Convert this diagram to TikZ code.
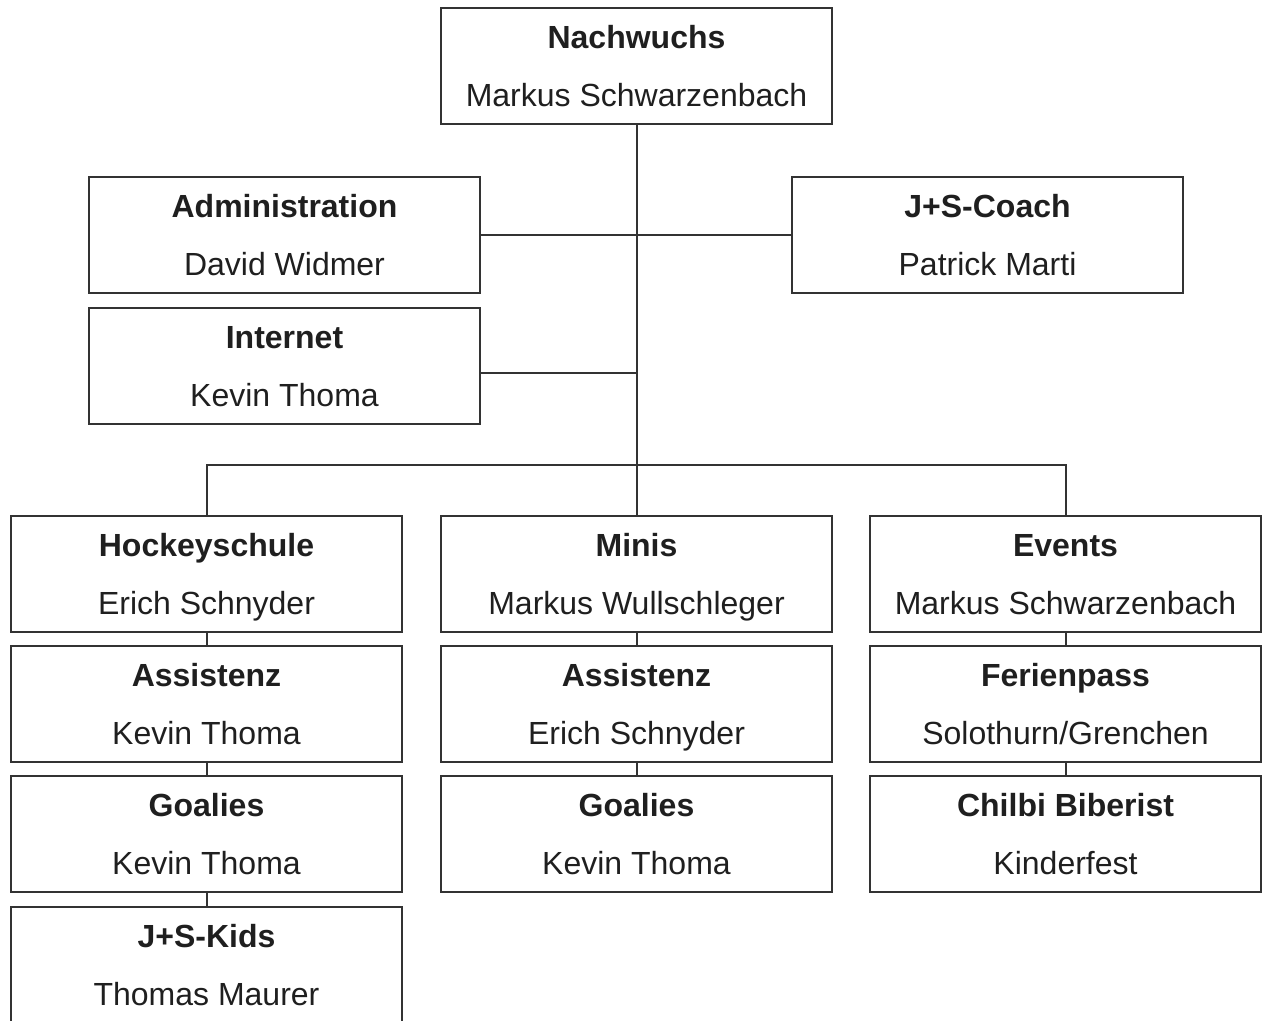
\documentclass[tikz,border=0pt]{standalone}
\usepackage{fontspec}
\setmainfont{Liberation Sans}
\usepackage{tikz}
\usetikzlibrary{positioning}
\definecolor{linegray}{gray}{0.2}
\definecolor{textgray}{gray}{0.12}
\newcommand{\unitlabel}[2]{\strut\textbf{#1}\\\strut #2}

\begin{document}
\begin{tikzpicture}[x=0.5pt,y=-0.5pt]
\tikzstyle{unit}=[draw=linegray, line width=1pt, inner sep=0pt, minimum width=195.5pt, minimum height=57pt, align=center, text=textgray, font=\fontsize{16}{29}\selectfont]
\tikzstyle{link}=[draw=linegray, line width=1pt]
\useasboundingbox (0,0) rectangle (1263,1021);
\node [unit] (nach) at (636.5,66) {\unitlabel{Nachwuchs}{Markus Schwarzenbach}};
\node [unit] (admin) at (284.5,235) {\unitlabel{Administration}{David Widmer}};
\node [unit] (coach) at (987.5,235) {\unitlabel{J+S-Coach}{Patrick Marti}};
\node [unit] (inet) at (284.5,366) {\unitlabel{Internet}{Kevin Thoma}};
\node [unit] (hock) at (206.5,574) {\unitlabel{Hockeyschule}{Erich Schnyder}};
\node [unit] (assA) at (206.5,704) {\unitlabel{Assistenz}{Kevin Thoma}};
\node [unit] (goalA) at (206.5,833.5) {\unitlabel{Goalies}{Kevin Thoma}};
\node [unit] (kids) at (206.5,965) {\unitlabel{J+S-Kids}{Thomas Maurer}};
\node [unit] (minis) at (636.5,574) {\unitlabel{Minis}{Markus Wullschleger}};
\node [unit] (assB) at (636.5,704) {\unitlabel{Assistenz}{Erich Schnyder}};
\node [unit] (goalB) at (636.5,833.5) {\unitlabel{Goalies}{Kevin Thoma}};
\node [unit] (events) at (1065.5,574) {\unitlabel{Events}{Markus Schwarzenbach}};
\node [unit] (ferien) at (1065.5,704) {\unitlabel{Ferienpass}{Solothurn/Grenchen}};
\node [unit] (chilbi) at (1065.5,833.5) {\unitlabel{Chilbi Biberist}{Kinderfest}};
\coordinate (jInet) at (636.5,373);
\coordinate (bus) at (636.5,465);
\draw [link] (nach.south) -- (minis.north);
\draw [link] (admin.east) -- (coach.west);
\draw [link] (jInet) -- (jInet -| inet.east);
\draw [link] (hock.north) |- (bus) -| (events.north);
\foreach \a/\b in {hock/assA, assA/goalA, goalA/kids, minis/assB, assB/goalB, events/ferien, ferien/chilbi}
  \draw [link] (\a.south) -- (\b.north);
\end{tikzpicture}
\end{document}
